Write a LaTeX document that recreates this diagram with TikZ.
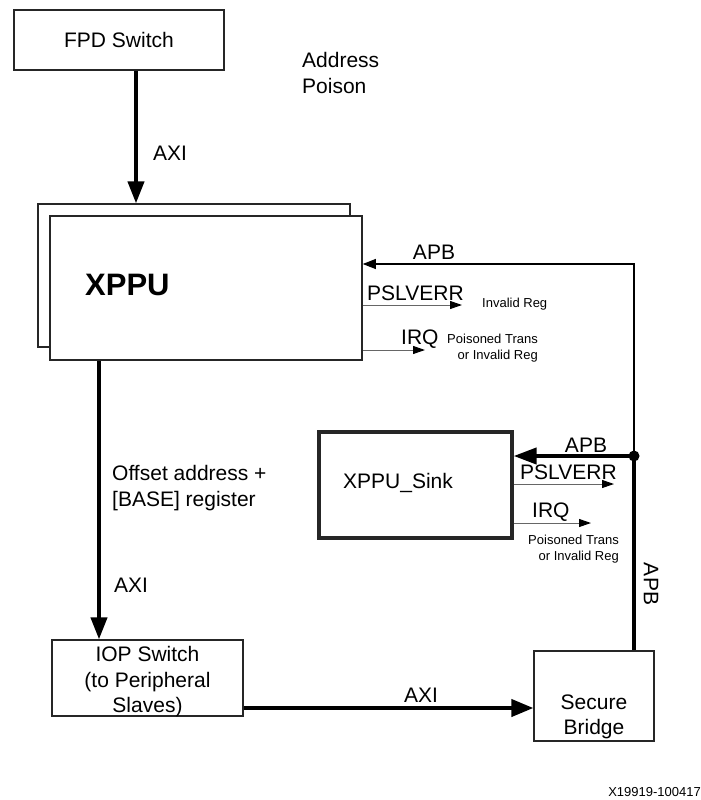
\documentclass[tikz,border=0pt]{standalone}
\usepackage{fontspec}
\setmainfont{Liberation Sans}
\usetikzlibrary{arrows.meta}
\newcommand\fbig{\fontsize{21}{25.5}\selectfont}
\newcommand\fsmall{\fontsize{13}{16}\selectfont}
\newcommand\fxppu{\fontsize{31}{36}\selectfont\bfseries}
\tikzset{
  box/.style={draw=black!85, line width=1.2pt, fill=white, inner sep=0pt, align=center, font=\fbig},
  lbl/.style={inner sep=0pt, font=\fbig},
  slbl/.style={inner sep=0pt, font=\fsmall, align=right},
  axi/.style={line width=4pt, -{Triangle[length=22pt,width=16pt]}},
  sig/.style={draw=black!60, line width=1pt, -{Triangle[length=12pt,width=8pt,color=black]}},
  apbthin/.style={draw=black, line width=1.2pt, -{Triangle[length=13pt,width=10pt]}},
}
\begin{document}
\begin{tikzpicture}[x=1pt,y=-1pt]
\useasboundingbox (0,0) rectangle (701,800);
% boxes
\node[box, minimum width=210pt, minimum height=60pt] (fpd) at (119,40) {FPD Switch};
\node[box, minimum width=312pt, minimum height=143pt] (xppuback) at (194,275.5) {};
\node[box, line width=1.6pt, minimum width=312pt, minimum height=144pt] (xppu) at (206,288) {};
\node[lbl, font=\fxppu, anchor=west] (xppulbl) at (85,285) {XPPU};
\node[box, line width=3.2pt, minimum width=193pt, minimum height=106pt] (sink) at (415.5,485) {};
\node[lbl, anchor=west] (sinklbl) at (343,483) {XPPU\_Sink};
\node[box, minimum width=191pt, minimum height=76pt] (iop) at (147.5,678) {};
\node[lbl, align=center] (ioplbl) at (147.5,682) {IOP Switch\\(to Peripheral\\Slaves)};
\node[box, minimum width=120pt, minimum height=90pt] (sb) at (594,696) {};
\node[lbl, align=center] (sblbl) at (594,717) {Secure\\Bridge};
% coordinates
\coordinate (axitop) at (136,0);
\coordinate (axidown) at (99,0);
\coordinate (dot) at (634,456);
\coordinate (apbc) at (634,264);
\coordinate (pe1) at (462,305);
\coordinate (ie1) at (425,350);
\coordinate (pe2) at (614,484);
\coordinate (ie2) at (591,523);
\coordinate (sbin) at (0,708);
% connectors
\draw[axi] (fpd.south -| axitop) -- (xppuback.north -| axitop);
\draw[axi] (xppu.south -| axidown) -- (iop.north -| axidown);
\draw[axi, -{Triangle[length=22pt,width=17pt]}] (iop.east |- sbin) -- (sb.west |- sbin);
\draw[line width=4pt] (sb.north -| dot) -- (dot);
\draw[line width=4pt, -{Triangle[length=23pt,width=16pt]}] (dot) -- (sink.east |- dot);
\draw[apbthin] (dot) -- (apbc) -- (xppu.east |- apbc);
\fill (dot) circle (5.5pt);
\draw[sig] (xppu.east |- pe1) -- (pe1);
\draw[sig] (xppu.east |- ie1) -- (ie1);
\draw[sig] (sink.east |- pe2) -- (pe2);
\draw[sig] (sink.east |- ie2) -- (ie2);
% labels
\node[lbl, align=left, anchor=west] (addr) at (302,73) {Address\\Poison};
\node[lbl, anchor=west] (axi1) at (153,153) {AXI};
\node[lbl] (apb1) at (434,252) {APB};
\node[lbl, anchor=west] (psl1) at (367,293) {PSLVERR};
\node[slbl, anchor=west] (inv1) at (482,304) {Invalid Reg};
\node[lbl, anchor=west] (irq1) at (401,339) {IRQ};
\node[slbl, anchor=east] (poi1) at (538,348) {Poisoned Trans\\or Invalid Reg};
\node[lbl, align=left, anchor=west] (off) at (112,488) {Offset address +\\{[BASE]} register};
\node[lbl, anchor=west] (axi2) at (114,585) {AXI};
\node[lbl] (apb2) at (586,445) {APB};
\node[lbl, anchor=west] (psl2) at (520,472) {PSLVERR};
\node[lbl, anchor=west] (irq2) at (532,512) {IRQ};
\node[slbl, anchor=east] (poi2) at (619,549) {Poisoned Trans\\or Invalid Reg};
\node[lbl, rotate=-90] (apb3) at (651,584) {APB};
\node[lbl] (axi3) at (421,695) {AXI};
\node[slbl, anchor=east] (code) at (701,792) {X19919-100417};
\end{tikzpicture}
\end{document}
